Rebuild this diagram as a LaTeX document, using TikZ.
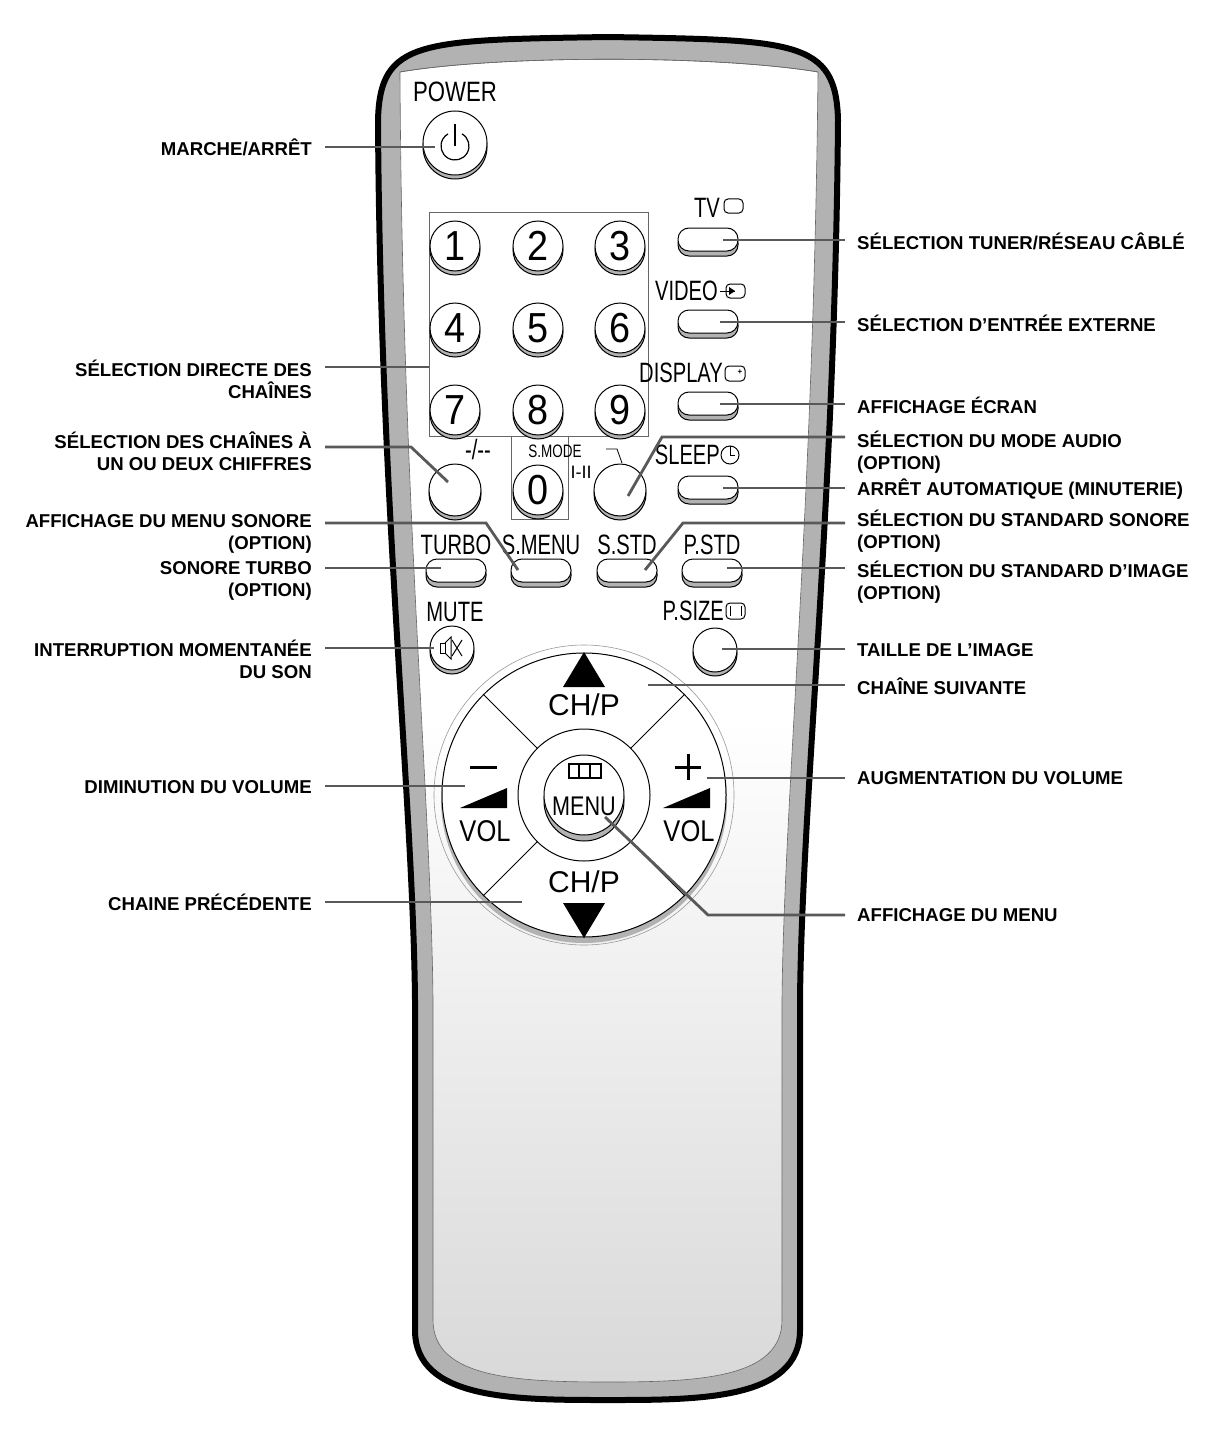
\documentclass[tikz,border=0pt]{standalone}
\usepackage{fontspec}
\setmainfont{Liberation Sans}
\usetikzlibrary{calc}
\begin{document}
\begin{tikzpicture}[x=1pt,y=-1pt,
  lab/.style={font=\fontsize{18.6}{22}\selectfont\bfseries, inner sep=0pt},
  labL/.style={lab, anchor=east, align=right},
  labR/.style={lab, anchor=west, align=left},
  lead/.style={line width=2.8pt, draw=black!65},
  rt/.style={font=\fontsize{28}{28}\selectfont, inner sep=0pt, xscale=0.72},
  dig/.style={font=\fontsize{42}{42}\selectfont, inner sep=0pt, xscale=0.9},
  pad/.style={font=\fontsize{30}{30}\selectfont, inner sep=0pt}]
\useasboundingbox (0,0) rectangle (1210,1434);
% body
\path[draw=black, line width=6pt, fill=black!30]
 (378,120) .. controls (380,40) and (420,40) .. (608,37) .. controls (795,40) and (836,40) .. (838,120)
 .. controls (835,500) and (802,800) .. (800,1000) -- (800,1330) .. controls (800,1400) and (700,1400) .. (608,1400)
 .. controls (515,1400) and (415,1400) .. (415,1330) -- (415,1000) .. controls (413,800) and (380,500) .. (378,120) -- cycle;
\path[top color=white, bottom color=black!15, middle color=white, draw=black!60, line width=0.6pt]
 (400,72) .. controls (500,55) and (716,55) .. (818,72) .. controls (814,500) and (784,800) .. (782,1000)
 -- (782,1320) .. controls (782,1378) and (700,1382) .. (608,1382) .. controls (516,1382) and (433,1378) .. (433,1320)
 -- (433,1000) .. controls (431,800) and (402,500) .. (400,72) -- cycle;
\draw[black!60, line width=0.6pt] (400,72) .. controls (500,55) and (716,55) .. (818,72);
% button macros
\def\rb(#1,#2,#3){\fill[black!30,draw=black,line width=1pt] (#1,#2+4) circle (#3);
  \fill[white,draw=black,line width=1pt] (#1,#2) circle (#3);}
\def\ob(#1,#2){%
  \draw[black,line width=1pt,fill=black!30,rounded corners=11pt] (#1-30,#2-8) rectangle (#1+30,#2+16);
  \draw[black,line width=1pt,fill=white,rounded corners=11pt] (#1-30,#2-12) rectangle (#1+30,#2+11);}
% power
\node[rt, xscale=1.1] (powl) at (455,92) {POWER};
\rb(455,143,32)
\node[circle, minimum size=64pt] (pow) at (455,143) {};
\draw[line width=1.2pt] ($(455,146)+(-60:14)$) arc (-60:240:14);
\draw[line width=1.2pt] (455,124) -- (455,146);
% number box
\draw[black!60, line width=0.8pt] (429,212) rectangle (648,436);
\draw[black!60, line width=0.8pt] (511,436) -- (511,519) -- (568,519) -- (568,436);
\foreach \n/\x/\y in {1/455/246,2/538/246,3/620/246,4/455/328,5/538/328,6/620/328,7/455/410,8/538/410,9/620/410,0/538/490}{
  \rb(\x,\y,25)
  \node[dig] (d\n) at (\x,\y) {\n};}
\rb(455,490,26) \node (dash) at (455,490) {};
\rb(620,490,26) \node (smode) at (620,490) {};
\node[rt] at (478,449) {{-}/{-}{-}};
\node[font=\fontsize{18}{18}\selectfont, inner sep=0pt, xscale=0.75] at (555,451) {S.MODE};
\node[font=\fontsize{18}{18}\selectfont\rmfamily, inner sep=0pt] at (581,472) {I-II};
\draw[line width=0.8pt] (606,449) -- (617,449) -- (622,463);
% right column
\ob(708,240) \ob(708,322) \ob(708,404) \ob(708,488)
\node[rt, anchor=east] at (720,208) {TV};
\draw[line width=1pt, rounded corners=4pt] (724,199) rectangle (743,213);
\node[rt, anchor=east] at (718,291) {VIDEO};
\draw[line width=1pt] (720,291) -- (735,291); \fill (735,291) -- (729,287) -- (729,295) -- cycle;
\draw[line width=1pt, rounded corners=4pt] (726,284) rectangle (745,298);
\node[rt, anchor=east] at (723,373) {DISPLAY};
\draw[line width=1pt, rounded corners=4pt] (725,366) rectangle (745,381);
\node[font=\fontsize{8}{8}\selectfont\bfseries] at (740,372) {+};
\node[rt, anchor=east] at (720,455) {SLEEP};
\draw[line width=1pt] (730,455) circle (9); \draw[line width=1pt] (730,446) -- (730,455) -- (735,455);
% middle row
\foreach \x/\t in {456/TURBO,541/S.MENU,627/S.STD,712/P.STD}{\ob(\x,571) \node[rt] at (\x,545) {\t};}
% mute / psize
\node[rt] at (455,612) {MUTE};
\rb(452,648,22)
\draw[line width=1pt] (440,643) rectangle (445,653); \draw[line width=1pt] (445,643) -- (451,637) -- (451,659) -- (445,653);
\draw[line width=1pt] (452,640) -- (462,656) (462,640) -- (452,656);
\node[rt, anchor=east] at (724,611) {P.SIZE};
\draw[line width=1pt, rounded corners=4pt] (726,603) rectangle (745,619);
\draw[line width=1pt] (730,606) -- (730,616) (741,606) -- (741,616);
\rb(715,650,22)
% d-pad
\draw[black!40, line width=0.6pt] (584,795) circle (150);
\fill[black!30] (584,800) circle (143);
\draw[black, line width=1pt, fill=white] (584,795) circle (142);
\foreach \a in {45,135,225,315}{\draw[line width=1pt, black] ($(584,795)+(\a:66)$) -- ($(584,795)+(\a:142)$);}
\draw[line width=1pt] (584,795) circle (66);
\fill[black!30,draw=black,line width=1pt] (584,801) circle (40);
\fill[white,draw=black,line width=1pt] (584,795) circle (40);
\node[pad] at (584,705) {CH/P};
\fill (584,652) -- (563,687) -- (605,687) -- cycle;
\node[pad] at (584,882) {CH/P};
\fill (584,938) -- (563,903) -- (605,903) -- cycle;
\node[pad, xscale=0.85] at (485,831) {VOL};
\node[pad, xscale=0.85] at (689,831) {VOL};
\draw[line width=3pt] (470,767) -- (497,767);
\draw[line width=3pt] (688,754) -- (688,780) (675,767) -- (701,767);
\fill (460,808) -- (507,788) -- (507,808) -- cycle;
\fill (663,808) -- (710,788) -- (710,808) -- cycle;
\node[font=\fontsize{27}{27}\selectfont, inner sep=0pt, xscale=0.8] at (584,806) {MENU};
\draw[line width=1.2pt] (569,764) rectangle (601,778); \draw[line width=1.2pt] (579,764) -- (579,778) (590,764) -- (590,778);
% named anchors for connectors
\coordinate (pPow) at (435,147);
\coordinate (pNum) at (429,367);
\coordinate (pDashA) at (411,447); \coordinate (pDash) at (448,482);
\coordinate (pSmA) at (486,523); \coordinate (pSm) at (518,570);
\coordinate (pTur) at (441,568);
\coordinate (pMute) at (434,648);
\coordinate (pVm) at (465,786);
\coordinate (pChd) at (522,902);
\coordinate (pTV) at (723,240);
\coordinate (pVid) at (720,322);
\coordinate (pDisp) at (720,404);
\coordinate (pSmo) at (628,496); \coordinate (pSmoA) at (662,437);
\coordinate (pSlp) at (723,488);
\coordinate (pSst) at (645,570); \coordinate (pSstA) at (683,523);
\coordinate (pPst) at (727,568);
\coordinate (pPsz) at (722,649);
\coordinate (pChu) at (648,685);
\coordinate (pVp) at (707,778);
\coordinate (pMen) at (605,817); \coordinate (pMenA) at (708,915);
% labels
\node[labL] (L1) at (312,147) {MARCHE/ARRÊT};
\node[labL, anchor=north east] (L2) at (312,360) {SÉLECTION DIRECTE DES\\CHAÎNES};
\node[labL, anchor=north east] (L3) at (312,432) {SÉLECTION DES CHAÎNES À\\UN OU DEUX CHIFFRES};
\node[labL, anchor=north east] (L4) at (312,514) {AFFICHAGE DU MENU SONORE\\(OPTION)};
\node[labL, anchor=north east] (L5) at (312,561) {SONORE TURBO\\(OPTION)};
\node[labL, anchor=north east] (L6) at (312,640) {INTERRUPTION MOMENTANÉE\\DU SON};
\node[labL] (L7) at (312,787) {DIMINUTION DU VOLUME};
\node[labL] (L8) at (312,902) {CHAINE PRÉCÉDENTE};
\node[labR] (R1) at (857,241) {SÉLECTION TUNER/RÉSEAU CÂBLÉ};
\node[labR] (R2) at (857,323) {SÉLECTION D’ENTRÉE EXTERNE};
\node[labR] (R3) at (857,405) {AFFICHAGE ÉCRAN};
\node[labR, anchor=north west] (R4) at (857,431) {SÉLECTION DU MODE AUDIO\\(OPTION)};
\node[labR] (R5) at (857,489) {ARRÊT AUTOMATIQUE (MINUTERIE)};
\node[labR, anchor=north west] (R6) at (857,510) {SÉLECTION DU STANDARD SONORE\\(OPTION)};
\node[labR, anchor=north west] (R7) at (857,561) {SÉLECTION DU STANDARD D’IMAGE\\(OPTION)};
\node[labR] (R8) at (857,650) {TAILLE DE L’IMAGE};
\node[labR] (R9) at (857,686) {CHAÎNE SUIVANTE};
\node[labR] (R10) at (857,778) {AUGMENTATION DU VOLUME};
\node[labR] (R11) at (857,915) {AFFICHAGE DU MENU};
% leaders
\draw[lead] (325,147) -- (pPow);
\draw[lead] (325,367) -- (pNum);
\draw[lead] (325,447) -- (pDashA) -- (pDash);
\draw[lead] (325,523) -- (pSmA) -- (pSm);
\draw[lead] (325,568) -- (pTur);
\draw[lead] (325,648) -- (pMute);
\draw[lead] (325,786) -- (pVm);
\draw[lead] (325,902) -- (pChd);
\draw[lead] (pTV) -- (845,240);
\draw[lead] (pVid) -- (845,322);
\draw[lead] (pDisp) -- (845,404);
\draw[lead] (pSmo) -- (pSmoA) -- (845,437);
\draw[lead] (pSlp) -- (845,488);
\draw[lead] (pSst) -- (pSstA) -- (845,523);
\draw[lead] (pPst) -- (845,568);
\draw[lead] (pPsz) -- (845,649);
\draw[lead] (pChu) -- (845,685);
\draw[lead] (pVp) -- (845,778);
\draw[lead] (pMen) -- (pMenA) -- (845,915);
\end{tikzpicture}
\end{document}
